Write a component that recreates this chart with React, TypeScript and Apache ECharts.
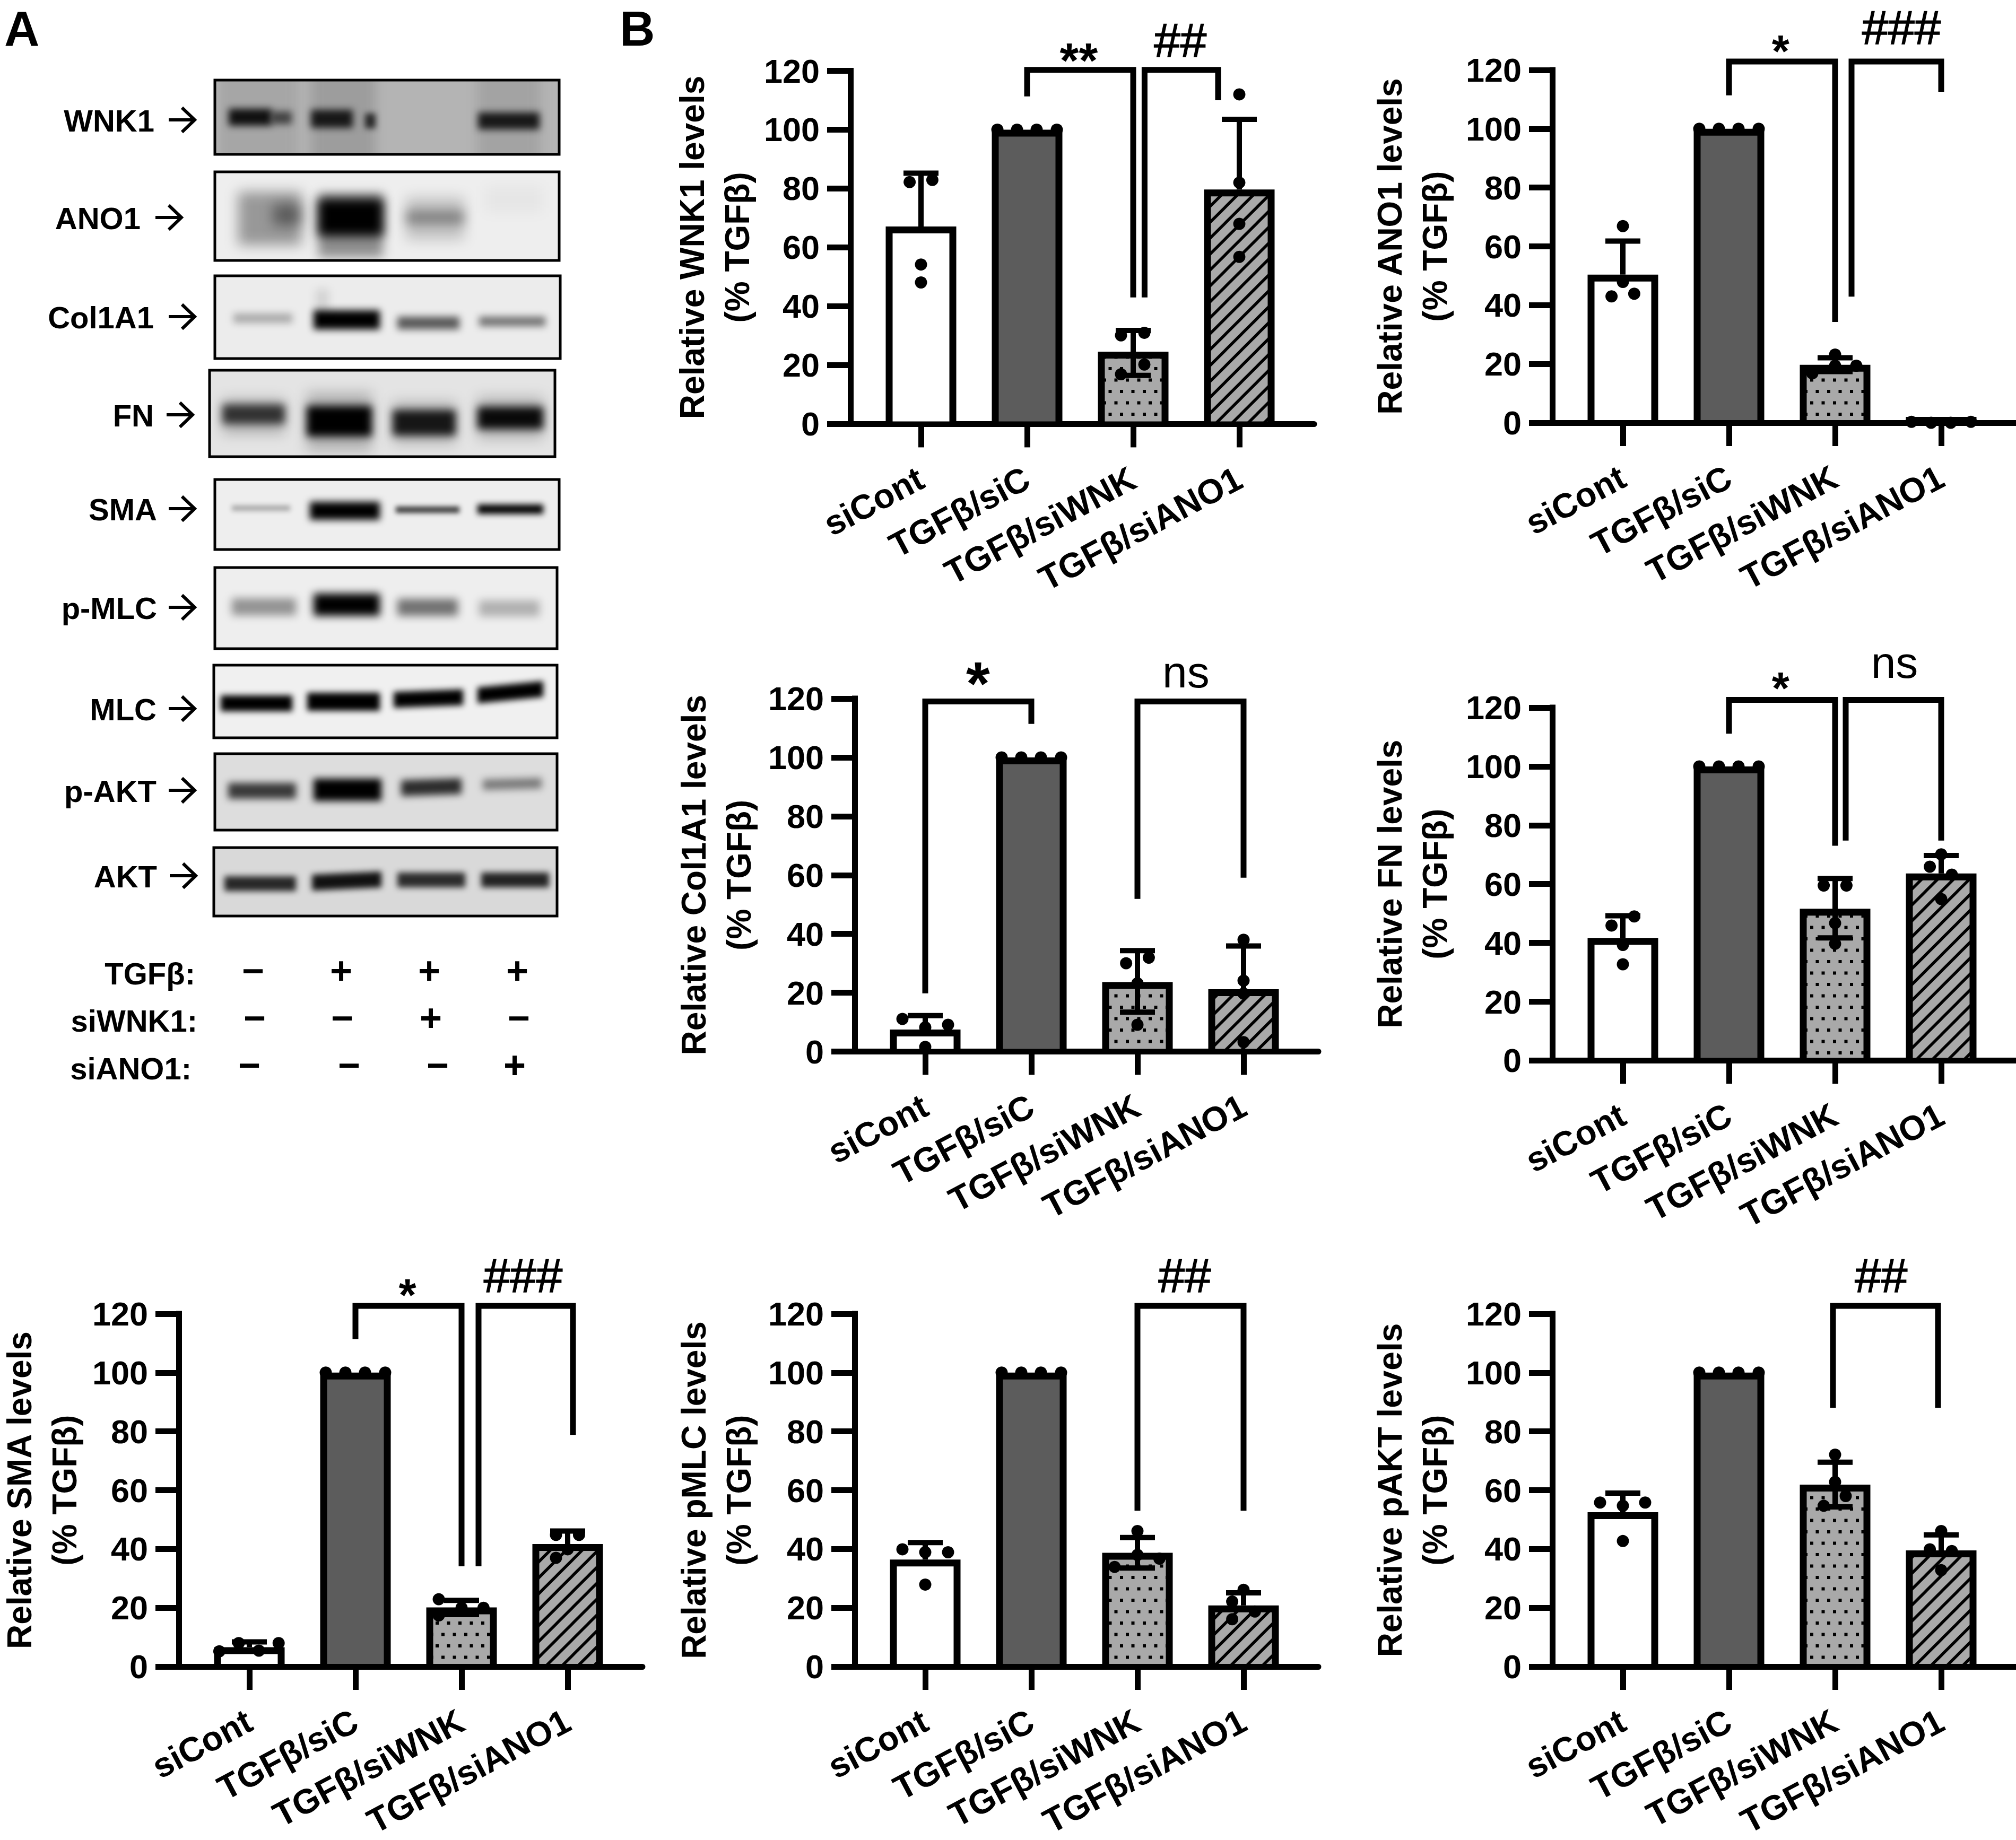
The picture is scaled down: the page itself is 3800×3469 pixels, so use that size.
import React, { useEffect, useRef } from 'react';
import * as echarts from 'echarts';

const FONT = '"Liberation Sans", Arial, sans-serif';
const categories = ['siCont', 'TGFβ/siC', 'TGFβ/siWNK', 'TGFβ/siANO1'];
const categoryPositions = [0, 1, 2, 3];

// ---- values ----
const wnk1Means = [67.1, 100, 24.6, 79.7];
const wnk1Upper = [85.2, 100, 31.8, 103.5];
const wnk1Lower = [null, null, 16.5, null];
const wnk1Points = [[82.2, 82.9, 54.2, 48.1], [100, 100, 100, 100], [30.1, 31, 20.2, 16.9], [112, 82, 68, 56.8]];

const ano1Means = [50.4, 100, 19.7, 2];
const ano1Upper = [61.8, 100, 22.1, 2];
const ano1Lower = [null, null, 17.4, null];
const ano1Points = [[66.9, 47.9, 43, 43.9], [100, 100, 100, 100], [23.2, 16.8, 19.4, 19.4], [0.3, 0, 0, 0.3]];

const col1a1Means = [7.5, 100, 23.6, 21.2];
const col1a1Upper = [12.2, 100, 34.3, 35.9];
const col1a1Lower = [null, null, 13.4, null];
const col1a1Points = [[11.1, 8.2, 9.1, 1.6], [100, 100, 100, 100], [30, 31.9, 23.2, 9.1], [38, 24.1, 19.7, 3.2]];

const fnMeans = [41.7, 100, 51.6, 63.6];
const fnUpper = [49.2, 100, 61.9, 69.7];
const fnLower = [null, null, 41.7, null];
const fnPoints = [[45.9, 49, 39.3, 32.7], [100, 100, 100, 100], [59.5, 59.5, 46.7, 39.7], [70.1, 65.9, 63.2, 54.9]];

const smaMeans = [6.6, 100, 20.1, 41.7];
const smaUpper = [8.4, 100, 22.5, 46.1];
const smaLower = [null, null, 17.7, null];
const smaPoints = [[5.2, 8, 5.4, 8], [100, 100, 100, 100], [22.9, 20, 20, 17.4], [44.8, 44.8, 39.9, 37]];

const pmlcMeans = [36.4, 100, 38.7, 20.8];
const pmlcUpper = [42.2, 100, 43.9, 25.1];
const pmlcLower = [null, null, 33.5, null];
const pmlcPoints = [[39.9, 38.9, 38.9, 27.9], [100, 100, 100, 100], [46.1, 38, 36.7, 33.9], [26.1, 22.1, 18.7, 16.1]];

const paktMeans = [52.5, 100, 61.9, 39.5];
const paktUpper = [59, 100, 69.5, 44.8];
const paktLower = [null, null, 54.3, null];
const paktPoints = [[55.8, 54.7, 55.8, 42.7], [100, 100, 100, 100], [72.1, 62.8, 58, 54.7], [46.1, 39.9, 39.3, 32.8]];

const treatmentRows = [
  { label: 'TGFβ:', signs: ['−', '+', '+', '+'] },
  { label: 'siWNK1:', signs: ['−', '−', '+', '−'] },
  { label: 'siANO1:', signs: ['−', '−', '−', '+'] },
];

// ---- layout (horizontal spread of the dots, in category units) ----
const S4 = [-0.28, -0.095, 0.09, 0.28];
const wnk1Spread = [[-0.107, 0.107, 0, 0], S4, [-0.115, 0.105, 0.105, -0.115], [0, 0, 0, 0]];
const ano1Spread = [[0, 0, -0.107, 0.107], S4, [0, -0.215, 0, 0.2], S4];
const col1a1Spread = [[-0.215, 0, 0.215, 0], S4, [-0.107, 0.107, 0, 0], [0, 0, 0, 0]];
const fnSpread = [[-0.107, 0.107, 0, 0], S4, [-0.107, 0.107, 0, 0], [0, -0.107, 0.1, 0]];
const smaSpread = [[-0.283, -0.1, 0.09, 0.276], S4, [-0.215, 0, 0.207, -0.215], [-0.11, 0.107, 0, -0.11]];
const pmlcSpread = [[-0.215, 0, 0.215, 0], S4, [0, 0, 0.207, -0.215], [0, -0.107, 0.107, -0.107]];
const paktSpread = [[-0.215, 0, 0.21, 0], S4, [0, 0, 0.1, -0.107], [0, -0.107, 0.1, 0]];

type Mark = { t: string; x: number; y: number; size: number; star?: boolean; heavy?: boolean };

const panels = [
  {
    title: 'Relative WNK1 levels', left: 1603, top: 133.5, bottom: 799.4, nameGap: 171,
    means: wnk1Means, upper: wnk1Upper, lower: wnk1Lower, points: wnk1Points, spread: wnk1Spread,
    brackets: [[[1, 111.3], [1, 120.3], [2, 120.3], [2, 43]], [[2.107, 43], [2.107, 120.3], [2.8, 120.3], [2.8, 110]]],
    marks: [{ t: '**', x: 1.487, y: 126.9, size: 92, star: true }, { t: '##', x: 2.444, y: 130.4, size: 89, heavy: true }] as Mark[],
  },
  {
    title: 'Relative ANO1 levels', left: 2926, top: 132, bottom: 797, nameGap: 179,
    means: ano1Means, upper: ano1Upper, lower: ano1Lower, points: ano1Points, spread: ano1Spread,
    brackets: [[[1, 111.4], [1, 122.9], [2, 122.9], [2, 34.3]], [[2.155, 42.9], [2.155, 122.9], [3, 122.9], [3, 112.6]]],
    marks: [{ t: '*', x: 1.486, y: 129.5, size: 85, star: true }, { t: '###', x: 2.625, y: 134.4, size: 89, heavy: true }] as Mark[],
  },
  {
    title: 'Relative Col1A1 levels', left: 1611, top: 1317, bottom: 1982.5, nameGap: 176,
    means: col1a1Means, upper: col1a1Upper, lower: col1a1Lower, points: col1a1Points, spread: col1a1Spread,
    brackets: [[[0, 19.8], [0, 119], [1, 119], [1, 111.4]], [[2, 51.9], [2, 119], [3, 119], [3, 59.1]]],
    marks: [{ t: '*', x: 0.497, y: 129.3, size: 115, star: true }, { t: 'ns', x: 2.457, y: 129.1, size: 84 }] as Mark[],
  },
  {
    title: 'Relative FN levels', left: 2926, top: 1334, bottom: 1999.4, nameGap: 179,
    means: fnMeans, upper: fnUpper, lower: fnLower, points: fnPoints, spread: fnSpread,
    brackets: [[[1, 111.1], [1, 122.6], [2, 122.6], [2, 73]], [[2.1, 74.8], [2.1, 122.6], [3, 122.6], [3, 74.8]]],
    marks: [{ t: '*', x: 1.486, y: 129.7, size: 85, star: true }, { t: 'ns', x: 2.56, y: 135.4, size: 84 }] as Mark[],
  },
  {
    title: 'Relative SMA levels', left: 337, top: 2477, bottom: 3142, nameGap: 173,
    means: smaMeans, upper: smaUpper, lower: smaLower, points: smaPoints, spread: smaSpread,
    brackets: [[[1, 111.4], [1, 122.7], [2, 122.7], [2, 34.1]], [[2.16, 34.1], [2.16, 122.7], [3.05, 122.7], [3.05, 78.8]]],
    marks: [{ t: '*', x: 1.49, y: 129.4, size: 85, star: true }, { t: '###', x: 2.58, y: 133, size: 89, heavy: true }] as Mark[],
  },
  {
    title: 'Relative pMLC levels', left: 1611, top: 2477, bottom: 3142, nameGap: 176,
    means: pmlcMeans, upper: pmlcUpper, lower: pmlcLower, points: pmlcPoints, spread: pmlcSpread,
    brackets: [[[2, 53], [2, 122.7], [3, 122.7], [3, 53]]],
    marks: [{ t: '##', x: 2.445, y: 133, size: 89, heavy: true }] as Mark[],
  },
  {
    title: 'Relative pAKT levels', left: 2926, top: 2477, bottom: 3142, nameGap: 179,
    means: paktMeans, upper: paktUpper, lower: paktLower, points: paktPoints, spread: paktSpread,
    brackets: [[[1.98, 88], [1.98, 122.7], [2.97, 122.7], [2.97, 88]]],
    marks: [{ t: '##', x: 2.434, y: 133, size: 89, heavy: true }] as Mark[],
  },
];

// ---- western blot panels, painted on a canvas and placed as images ----
// band: x0, x1, y centre, height, darkness, tilt, blur
type Band = [number, number, number, number, number, number?, number?];
const blots: { label: string; right: number; ly: number; ax: number; x: number; y: number; w: number; h: number; bg: string; shades?: [number, number, string][]; bands: Band[] }[] = [
  { label: 'WNK1', right: 291, ly: 227, ax: 318, x: 405, y: 151, w: 649, h: 140, bg: '#b4b4b4',
    shades: [[412, 562, '#a6a6a6'], [586, 708, '#9d9d9d'], [900, 1018, '#a3a3a3']],
    bands: [[431, 512, 221, 32, 0.9, 0, 7], [512, 550, 222, 24, 0.6, 0, 7], [586, 665, 224, 34, 0.85, 0, 7], [688, 708, 228, 28, 0.75, 0, 6], [901, 1017, 228, 32, 0.85, 0, 7]] },
  { label: 'ANO1', right: 265, ly: 411, ax: 293, x: 405, y: 324, w: 649, h: 167, bg: '#eeeeee',
    bands: [[449, 568, 412, 100, 0.36, 0, 12], [515, 568, 405, 40, 0.4, 0, 12], [600, 722, 425, 120, 0.4, 0, 10], [600, 722, 410, 70, 1, 0, 10], [765, 875, 412, 80, 0.18, 0, 12], [765, 875, 410, 26, 0.32, 0, 10], [915, 1024, 376, 50, 0.03, 0, 12]] },
  { label: 'Col1A1', right: 290, ly: 598, ax: 318, x: 405, y: 520, w: 651, h: 156, bg: '#ececec',
    bands: [[440, 551, 600, 18, 0.28, 0, 7], [591, 716, 603, 36, 1, 0, 7], [749, 866, 609, 24, 0.62, 0, 7], [903, 1028, 606, 18, 0.52, 0, 7], [595, 620, 570, 50, 0.1, 0, 8]] },
  { label: 'FN', right: 290, ly: 783, ax: 314, x: 395, y: 698, w: 651, h: 163, bg: '#e4e4e4',
    bands: [[419, 537, 785, 66, 0.22, 0, 12], [578, 701, 795, 110, 0.22, 0, 12], [740, 859, 797, 80, 0.2, 0, 12], [900, 1024, 788, 80, 0.2, 0, 12], [419, 537, 781, 36, 0.72, 0, 8], [578, 701, 794, 58, 1, 0, 8], [740, 859, 797, 48, 0.88, 0, 8], [900, 1024, 788, 42, 0.95, 0, 8]] },
  { label: 'SMA', right: 296, ly: 960, ax: 318, x: 405, y: 904, w: 649, h: 132, bg: '#eeeeee',
    bands: [[437, 547, 958, 10, 0.3, 0, 5], [584, 716, 963, 34, 1, 0, 7], [746, 866, 961, 12, 0.75, 0, 5], [900, 1024, 960, 18, 1, 0, 6]] },
  { label: 'p-MLC', right: 296, ly: 1146, ax: 318, x: 405, y: 1070, w: 645, h: 153, bg: '#eeeeee',
    bands: [[437, 558, 1144, 32, 0.38, 0, 8], [591, 716, 1140, 42, 1, 0, 8], [749, 863, 1145, 32, 0.52, 0, 8], [903, 1017, 1147, 30, 0.26, 0, 8]] },
  { label: 'MLC', right: 295, ly: 1337, ax: 318, x: 403, y: 1254, w: 647, h: 137, bg: '#f0f0f0',
    bands: [[416, 551, 1326, 30, 1, 0, 6], [579, 716, 1323, 34, 1, 0, 6], [742, 873, 1317, 30, 1, -5, 6], [900, 1024, 1305, 30, 1, -12, 6]] },
  { label: 'p-AKT', right: 295, ly: 1491, ax: 318, x: 405, y: 1421, w: 645, h: 144, bg: '#dddddd',
    bands: [[430, 558, 1491, 30, 0.74, 0, 7], [591, 719, 1489, 42, 1, 0, 7], [756, 870, 1484, 30, 0.8, -4, 7], [910, 1021, 1478, 20, 0.45, -3, 7]] },
  { label: 'AKT', right: 296, ly: 1652, ax: 320, x: 403, y: 1598, w: 647, h: 129, bg: '#d9d9d9',
    bands: [[423, 558, 1666, 28, 0.82, 0, 6], [588, 719, 1661, 30, 0.92, -6, 6], [749, 877, 1659, 28, 0.8, 0, 6], [907, 1035, 1659, 28, 0.84, 0, 6]] },
];

function paintBlot(b: (typeof blots)[number]) {
  const c = document.createElement('canvas');
  c.width = b.w;
  c.height = b.h;
  const ctx = c.getContext('2d') as CanvasRenderingContext2D;
  ctx.fillStyle = b.bg;
  ctx.fillRect(0, 0, b.w, b.h);
  ctx.filter = 'blur(10px)';
  (b.shades || []).forEach(([x0, x1, col]) => {
    ctx.fillStyle = col;
    ctx.fillRect(x0 - b.x, -20, x1 - x0, b.h + 40);
  });
  b.bands.forEach(([x0, x1, yc, h, a, tilt, blur]) => {
    ctx.filter = `blur(${blur || 7}px)`;
    const t = tilt || 0;
    const l = x0 - b.x, r = x1 - b.x, y = yc - b.y;
    ctx.fillStyle = `rgba(0,0,0,${a})`;
    ctx.beginPath();
    ctx.moveTo(l, y - h / 2 - t / 2);
    ctx.lineTo(r, y - h / 2 + t / 2);
    ctx.lineTo(r, y + h / 2 + t / 2);
    ctx.lineTo(l, y + h / 2 - t / 2);
    ctx.closePath();
    ctx.fill();
  });
  return c.toDataURL('image/png');
}

function dotTile() {
  const c = document.createElement('canvas');
  c.width = 43; c.height = 43;
  const ctx = c.getContext('2d') as CanvasRenderingContext2D;
  ctx.fillStyle = '#a9a9a9';
  ctx.fillRect(0, 0, 43, 43);
  ctx.fillStyle = '#000';
  [[4, 4], [25.5, 4], [15, 25.5], [36.5, 25.5]].forEach(([x, y]) => ctx.fillRect(x, y, 6, 6));
  return { image: c.toDataURL('image/png'), imageWidth: 43, imageHeight: 43, repeat: 'repeat' };
}

function hatchTile() {
  const s = 30;
  const c = document.createElement('canvas');
  c.width = s; c.height = s;
  const ctx = c.getContext('2d') as CanvasRenderingContext2D;
  ctx.fillStyle = '#a9a9a9';
  ctx.fillRect(0, 0, s, s);
  ctx.strokeStyle = '#000';
  ctx.lineWidth = 5.5;
  [[-s, s, s, -s], [0, s, s, 0], [0, 2 * s, 2 * s, 0]].forEach(([a, b, d, e]) => {
    ctx.beginPath();
    ctx.moveTo(a, b);
    ctx.lineTo(d, e);
    ctx.stroke();
  });
  return { image: c.toDataURL('image/png'), imageWidth: s, imageHeight: s, repeat: 'repeat' };
}

const BAND_PX = 200;
const X_MIN = -0.665;
const X_MAX = 3.705;
const STROKE = 13;

function buildOption() {
  const fills: any[] = ['#ffffff', '#5c5c5c', dotTile(), hatchTile()];
  const grid: any[] = [];
  const xAxis: any[] = [];
  const yAxis: any[] = [];
  const series: any[] = [];

  panels.forEach((p, gi) => {
    grid.push({ left: p.left, top: p.top, width: (X_MAX - X_MIN) * BAND_PX, height: p.bottom - p.top, containLabel: false, outerBoundsMode: 'none' });
    xAxis.push({
      type: 'value', gridIndex: gi, min: X_MIN, max: X_MAX, splitLine: { show: false },
      axisLine: { show: true, onZero: false, lineStyle: { color: '#000', width: 11 } },
      axisTick: { show: true, customValues: categoryPositions, length: 44, lineStyle: { color: '#000', width: 11 } },
      axisLabel: {
        customValues: categoryPositions, formatter: (v: number) => categories[Math.round(v)],
        rotate: 28, margin: 98, color: '#000', fontFamily: FONT, fontWeight: 'bold', fontSize: 65,
      },
    });
    yAxis.push({
      type: 'value', gridIndex: gi, min: 0, max: 120, interval: 20, splitLine: { show: false },
      name: `${p.title}\n(% TGFβ)`, nameLocation: 'middle', nameGap: p.nameGap,
      nameTextStyle: { color: '#000', fontFamily: FONT, fontWeight: 'bold', fontSize: 64, lineHeight: 85 },
      axisLine: { show: true, onZero: false, lineStyle: { color: '#000', width: 11, cap: 'square' } },
      axisTick: { show: true, length: 44, lineStyle: { color: '#000', width: 11 } },
      axisLabel: { margin: 58, color: '#000', fontFamily: FONT, fontWeight: 'bold', fontSize: 63 },
    });

    const onAxes = { xAxisIndex: gi, yAxisIndex: gi, coordinateSystem: 'cartesian2d' };
    // outer black bar
    series.push({
      type: 'bar', ...onAxes, barWidth: 133, clip: false, silent: true, z: 2,
      itemStyle: { color: '#000' },
      data: p.means.map((m, i) => [i, m]),
    });
    // inner fill of each bar
    series.push({
      type: 'custom', ...onAxes, silent: true, z: 3, clip: false,
      data: p.means.map((m, i) => [i, m]),
      renderItem: (params: any, api: any) => {
        const i = api.value(0);
        const top = api.coord([i, api.value(1)]);
        const base = api.coord([i, 0]);
        const y0 = top[1] + STROKE;
        const y1 = base[1] - 5;
        if (y1 <= y0) return { type: 'group', children: [] };
        return {
          type: 'rect',
          shape: { x: top[0] - 133 / 2 + STROKE, y: y0, width: 133 - 2 * STROKE, height: y1 - y0 },
          style: { fill: fills[params.dataIndex] },
        };
      },
    });
    // error bars
    series.push({
      type: 'custom', ...onAxes, silent: true, z: 4, clip: false,
      data: p.upper.map((u, i) => [i, u, p.means[i], p.lower[i] == null ? p.means[i] : p.lower[i]]),
      renderItem: (_: any, api: any) => {
        const i = api.value(0);
        const hi = api.coord([i, api.value(1)]);
        const lo = api.coord([i, api.value(3)]);
        if (api.value(1) === api.value(2)) return { type: 'group', children: [] };
        const style = { stroke: '#000', lineWidth: 10, fill: 'none' };
        const kids: any[] = [
          { type: 'line', shape: { x1: hi[0], y1: hi[1], x2: lo[0], y2: lo[1] }, style },
          { type: 'line', shape: { x1: hi[0] - 33, y1: hi[1], x2: hi[0] + 33, y2: hi[1] }, style },
        ];
        if (api.value(3) !== api.value(2)) {
          kids.push({ type: 'line', shape: { x1: lo[0] - 33, y1: lo[1], x2: lo[0] + 33, y2: lo[1] }, style });
        }
        return { type: 'group', children: kids };
      },
    });
    // individual points
    series.push({
      type: 'scatter', ...onAxes, silent: true, z: 5, clip: false, symbolSize: 23,
      itemStyle: { color: '#000', opacity: 1 },
      data: p.points.flatMap((vals, i) => vals.map((v, j) => [i + p.spread[i][j], v])),
    });
    // significance brackets and their marks
    series.push({
      type: 'custom', ...onAxes, silent: true, z: 6, clip: false,
      data: [[0, 0]],
      renderItem: (_: any, api: any) => {
        const kids: any[] = p.brackets.map((b) => ({
          type: 'polyline',
          shape: { points: b.map((pt) => api.coord(pt)) },
          style: { stroke: '#000', lineWidth: 11, fill: 'none', lineJoin: 'miter' },
        }));
        p.marks.forEach((m) => {
          const at = api.coord([m.x, m.y]);
          kids.push({
            type: 'text', x: at[0], y: at[1] + (m.star ? m.size * 0.2 : 0),
            style: {
              text: m.t, fill: '#000', align: 'center', verticalAlign: 'middle',
              textAlign: 'center', textVerticalAlign: 'middle',
              stroke: m.heavy ? '#000' : undefined, lineWidth: m.heavy ? 1.6 : 0,
              font: `${m.star ? 'bold' : 'normal'} ${m.size}px ${FONT}`,
            },
          });
        });
        return { type: 'group', children: kids };
      },
    });
  });

  // panel A and the panel letters
  const graphic: any[] = [];
  const text = (t: string, x: number, y: number, size: number, align: string, weight = 'bold') => ({
    type: 'text', x, y, silent: true,
    style: {
      text: t, fill: '#000', align, verticalAlign: 'middle', textAlign: align, textVerticalAlign: 'middle',
      font: `${weight} ${size}px ${FONT}`,
    },
  });
  graphic.push(text('A', 8, 54, 92, 'left'));
  graphic.push(text('B', 1168, 54, 92, 'left'));
  blots.forEach((b) => {
    graphic.push({ type: 'image', x: b.x, y: b.y, silent: true, style: { image: paintBlot(b), x: 0, y: 0, width: b.w, height: b.h } });
    graphic.push({ type: 'rect', silent: true, shape: { x: b.x, y: b.y, width: b.w, height: b.h }, style: { fill: 'none', stroke: '#000', lineWidth: 5 } });
    graphic.push(text(b.label, b.right, b.ly, 58, 'right'));
    const a0 = b.ax, a1 = b.ax + 49, ay = b.ly - 1;
    graphic.push({ type: 'line', silent: true, shape: { x1: a0, y1: ay, x2: a1 - 2, y2: ay }, style: { stroke: '#000', lineWidth: 6 } });
    graphic.push({ type: 'polyline', silent: true, shape: { points: [[a1 - 24, ay - 23], [a1, ay], [a1 - 24, ay + 23]] }, style: { stroke: '#000', lineWidth: 6, fill: 'none', lineJoin: 'miter' } });
  });
  const rowLayout = [
    { y: 1835, right: 368, sy: 1830, xs: [477, 643, 809, 975] },
    { y: 1924, right: 372, sy: 1919, xs: [480, 645, 812, 978] },
    { y: 2014, right: 361, sy: 2008, xs: [470, 658, 825, 970] },
  ];
  treatmentRows.forEach((r, ri) => {
    const L = rowLayout[ri];
    graphic.push(text(r.label, L.right, L.y, 58, 'right'));
    r.signs.forEach((s, si) => graphic.push(text(s, L.xs[si], L.sy, 72, 'center')));
  });

  return { animation: false, backgroundColor: '#ffffff', grid, xAxis, yAxis, series, graphic };
}

export default function App() {
  const ref = useRef<HTMLDivElement | null>(null);
  useEffect(() => {
    const chart = echarts.init(ref.current as HTMLDivElement, undefined, { renderer: 'svg' });
    chart.setOption(buildOption() as any);
    return () => chart.dispose();
  }, []);
  return <div ref={ref} style={{ position: 'absolute', left: 0, top: 0, width: 3800, height: 3469 }} />;
}
